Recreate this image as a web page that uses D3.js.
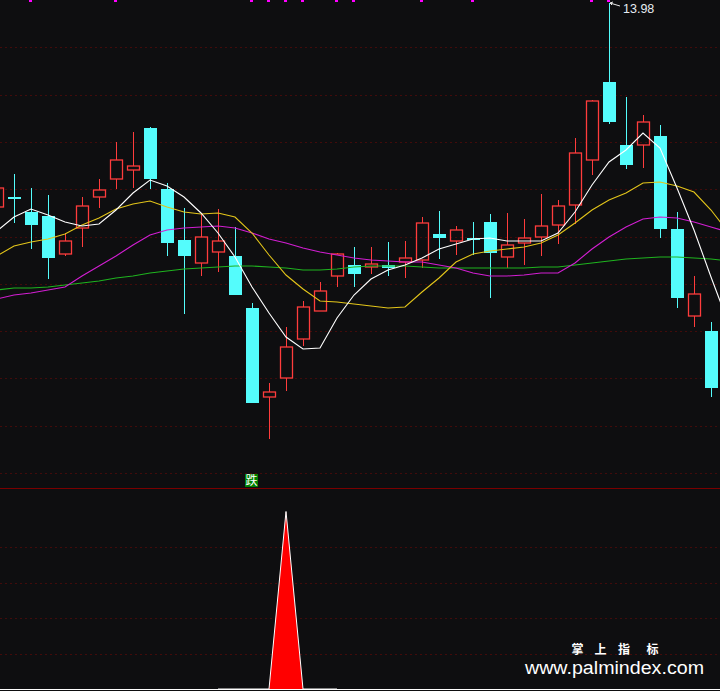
<!DOCTYPE html>
<html><head><meta charset="utf-8">
<script src="https://cdn.jsdelivr.net/npm/d3@7"></script>
<style>
html,body{margin:0;padding:0;background:#0e0e10;}
svg{display:block;}
</style></head>
<body>
<svg id="chart" width="720" height="691"></svg>
<script>
// ---- data (prices) ----
const idx   = [-1,0,1,2,3,4,5,6,7,8,9,10,11,12,13,14,15,16,17,18,19,20,21,22,23,24,25,26,27,28,29,30,31,32,33,34,35,36,37,38,39,40,41];
const open  = [11.94,12.04,11.89,11.85,11.47,11.73,12.04,12.22,12.31,12.73,12.12,11.61,11.38,11.49,11.45,10.93,10.04,10.23,10.62,10.90,11.25,11.36,11.34,11.36,11.39,11.41,11.67,11.60,11.63,11.79,11.44,11.58,11.64,11.76,11.96,12.41,13.19,12.56,12.56,12.65,11.72,10.85,10.70];
const high  = [12.25,12.27,12.13,12.06,11.68,12.04,12.22,12.59,12.69,12.74,12.18,11.93,11.88,11.92,11.74,10.98,10.18,10.74,11.00,11.19,11.48,11.54,11.54,11.59,11.60,11.84,11.90,11.75,11.79,11.87,11.88,11.82,12.07,12.01,12.63,13.01,13.98,13.04,12.86,12.76,11.89,11.25,10.79];
const low   = [11.91,11.78,11.52,11.22,11.45,11.54,11.93,12.12,12.13,12.12,11.45,10.87,11.25,11.29,11.06,9.98,9.62,10.10,10.55,10.90,11.14,11.14,11.27,11.25,11.23,11.33,11.42,11.46,11.46,11.03,11.33,11.36,11.45,11.57,11.77,12.26,12.77,12.32,12.33,11.63,10.93,10.74,10.04];
const close = [12.13,12.02,11.76,11.43,11.60,11.95,12.11,12.41,12.35,12.22,11.58,11.45,11.64,11.60,11.06,9.98,10.09,10.54,10.94,11.10,11.47,11.27,11.37,11.33,11.43,11.78,11.63,11.71,11.62,11.48,11.56,11.63,11.75,11.95,12.48,13.00,12.79,12.36,12.79,11.72,11.03,11.07,10.13];

// moving-average lines (index -1 .. 42)
const maIdx = [-1,0,1,2,3,4,5,6,7,8,9,10,11,12,13,14,15,16,17,18,19,20,21,22,23,24,25,26,27,28,29,30,31,32,33,34,35,36,37,38,39,40,41,42];
const maWhite  = [11.70,11.84,11.92,11.86,11.79,11.75,11.77,11.91,12.08,12.21,12.15,12.04,11.88,11.68,11.44,11.14,10.88,10.64,10.52,10.53,10.83,11.06,11.22,11.31,11.36,11.43,11.52,11.57,11.62,11.63,11.60,11.60,11.60,11.68,11.89,12.16,12.39,12.51,12.68,12.53,12.13,11.71,11.24,10.79];
const maYellow = [11.45,11.55,11.59,11.62,11.67,11.76,11.83,11.92,11.97,12.00,11.94,11.89,11.87,11.88,11.84,11.68,11.46,11.26,11.12,11.00,10.99,10.97,10.95,10.93,10.94,11.09,11.23,11.39,11.47,11.50,11.52,11.54,11.58,11.66,11.78,11.91,12.01,12.08,12.18,12.19,12.15,12.09,11.91,11.69];
const maPurple = [11.02,11.06,11.08,11.11,11.14,11.25,11.35,11.45,11.56,11.66,11.71,11.73,11.74,11.75,11.73,11.68,11.62,11.58,11.53,11.49,11.46,11.43,11.41,11.40,11.39,11.39,11.36,11.33,11.28,11.25,11.25,11.26,11.28,11.28,11.38,11.52,11.64,11.74,11.82,11.84,11.83,11.79,11.74,11.69];
const maGreen  = [11.11,11.13,11.13,11.14,11.16,11.18,11.20,11.23,11.25,11.28,11.30,11.32,11.33,11.34,11.35,11.35,11.34,11.33,11.31,11.31,11.32,11.34,11.35,11.35,11.35,11.34,11.33,11.33,11.33,11.33,11.33,11.33,11.34,11.34,11.36,11.38,11.40,11.42,11.43,11.44,11.44,11.43,11.42,11.40];

// top signal marks and the sub-panel indicator
const topSignals = [1,6,14,15,16,17,19,20,24,27,34,35];
const fallSignalIdx = [14];
const fallSignalText = ["跌"];
const subIdx    = [12,13,14,15,16,17,18,19];
const subValues = [0,0,0,0,5,0,0,0];
const highLabel = "13.98";
const highLabelIdx = 35;
const brandChars = ["掌","上","指","标"];
const site = "www.palmindex.com";

// ---- scales ----
const W = 720, H = 691;
const svg = d3.select("#chart");
svg.append("rect").attr("width",W).attr("height",H).attr("fill","#0e0e10");

const x = d3.scaleLinear().domain([-1, 42]).range([-3, 728]);
const y = d3.scaleLinear().domain([9.28, 14.01]).range([473, 0]);
const ySub = d3.scaleLinear().domain([0, 5]).range([689, 511.5]);

const gridCol = "#420b0b";
// top panel grid (10 equal bands)
const topGrid = d3.range(1, 11).map(k => y(14.01 - k * (14.01 - 9.28) / 10));
svg.append("g").selectAll("line").data(topGrid).join("line")
  .attr("x1",0).attr("x2",W).attr("y1",d=>Math.round(d)+0.5).attr("y2",d=>Math.round(d)+0.5)
  .attr("stroke",gridCol).attr("stroke-width",1).attr("stroke-dasharray","2,3");
// sub panel grid
svg.append("g").selectAll("line").data([1,2,3,4]).join("line")
  .attr("x1",0).attr("x2",W).attr("y1",d=>Math.round(ySub(d))+0.5).attr("y2",d=>Math.round(ySub(d))+0.5)
  .attr("stroke",gridCol).attr("stroke-width",1).attr("stroke-dasharray","2,3");
// divider
svg.append("line").attr("x1",0).attr("x2",W).attr("y1",488.5).attr("y2",488.5)
  .attr("stroke","#7a0000").attr("stroke-width",1);

// ---- candles ----
const candles = idx.map((d,i)=>({i:d,o:open[i],h:high[i],l:low[i],c:close[i]}));
const up = "#ff3c3c", dn = "#54fcfc";
const bw = 12;
const cg = svg.append("g");
candles.forEach(d=>{
  const cx = Math.round(x(d.i)) + 0.5;
  const isUp = d.c > d.o;
  const top = y(Math.max(d.o,d.c)), bot = y(Math.min(d.o,d.c));
  if (isUp) {
    cg.append("line").attr("x1",cx).attr("x2",cx).attr("y1",y(d.h)).attr("y2",top).attr("stroke",up);
    cg.append("line").attr("x1",cx).attr("x2",cx).attr("y1",bot).attr("y2",y(d.l)).attr("stroke",up);
    cg.append("rect").attr("x",cx-bw/2).attr("y",top).attr("width",bw).attr("height",Math.max(1,bot-top))
      .attr("fill","none").attr("stroke",up).attr("stroke-width",1.3);
  } else {
    cg.append("line").attr("x1",cx).attr("x2",cx).attr("y1",y(d.h)).attr("y2",y(d.l)).attr("stroke",dn);
    cg.append("rect").attr("x",cx-bw/2-0.5).attr("y",top).attr("width",bw+1).attr("height",Math.max(2,bot-top))
      .attr("fill",dn);
  }
});

// ---- MA lines ----
const line = vals => d3.line().x((d,i)=>x(maIdx[i])).y(d=>y(d))(vals);
[[maGreen,"#1fb31f"],[maPurple,"#d21ed2"],[maYellow,"#e3c51a"],[maWhite,"#ffffff"]].forEach(([v,c])=>{
  svg.append("path").attr("d",line(v)).attr("fill","none").attr("stroke",c).attr("stroke-width",1.1);
});

// ---- top signal marks ----
svg.append("g").selectAll("rect").data(topSignals).join("rect")
  .attr("x",d=>Math.round(x(d))-2).attr("y",0).attr("width",3).attr("height",2).attr("fill","#ff00ff");

// ---- high label ----
const hx = x(highLabelIdx), hy = y(high[idx.indexOf(highLabelIdx)]);
svg.append("path").attr("d",`M${hx+1},${hy} L${hx+11},${hy+3} M${hx+1},${hy} l3,-1 M${hx+1},${hy} l2,2`)
  .attr("stroke","#e8e8e8").attr("fill","none").attr("stroke-width",1);
svg.append("text").attr("x",hx+14).attr("y",hy+10).text(highLabel)
  .attr("fill","#e6ecf2").attr("font-family","Liberation Sans, Arial, sans-serif").attr("font-size",12.5);

// ---- fall signal ----
fallSignalIdx.forEach((d,k)=>{
  const cx = x(d);
  svg.append("rect").attr("x",cx-7).attr("y",474).attr("width",13).attr("height",13).attr("fill","#008000");
  svg.append("text").attr("x",cx-0.5).attr("y",485).attr("text-anchor","middle").text(fallSignalText[k])
    .attr("fill","#ffffff").attr("font-family","Noto Sans CJK SC, sans-serif").attr("font-size",12);
});

// ---- sub indicator ----
const area = d3.area().x((d,i)=>x(subIdx[i])).y0(ySub(0)).y1(d=>ySub(d));
svg.append("path").attr("d",area(subValues)).attr("fill","#ff0000");
const edge = d3.line().x((d,i)=>x(subIdx[i])).y(d=>ySub(d));
svg.append("path").attr("d",edge(subValues)).attr("fill","none").attr("stroke","#ffffff").attr("stroke-width",1);

// bottom white line
svg.append("line").attr("x1",0).attr("x2",W).attr("y1",689.5).attr("y2",689.5).attr("stroke","#ffffff").attr("stroke-width",1.2);

// ---- watermark ----
const brandX = [577.5, 600.5, 624, 652.5];
svg.append("g").selectAll("text").data(brandChars).join("text")
  .attr("x",(d,i)=>brandX[i]).attr("y",654).attr("text-anchor","middle").text(d=>d)
  .attr("fill","#ffffff").attr("font-family","Noto Sans CJK SC, sans-serif").attr("font-size",12).attr("font-weight","bold");
svg.append("text").attr("x",614.5).attr("y",674).attr("text-anchor","middle").text(site)
  .attr("fill","#ffffff").attr("font-family","Liberation Sans, Arial, sans-serif").attr("font-size",18)
  .attr("textLength",179).attr("lengthAdjust","spacingAndGlyphs");
</script>
</body></html>
